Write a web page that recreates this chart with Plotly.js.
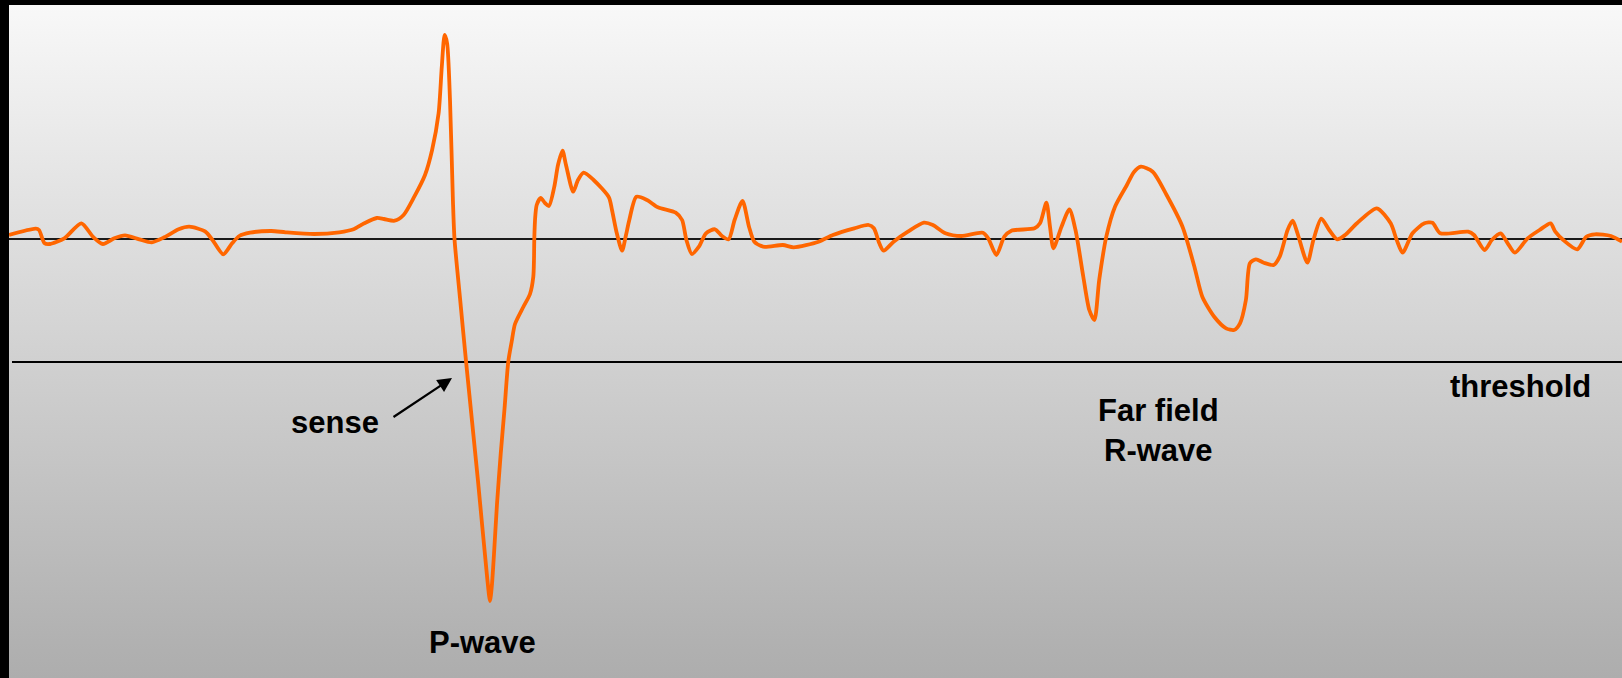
<!DOCTYPE html>
<html>
<head>
<meta charset="utf-8">
<script src="https://cdn.plot.ly/plotly-3.0.1.min.js"></script>
<style>
  html, body { margin: 0; padding: 0; background: #000; }
  #chart { width: 1622px; height: 678px; }
</style>
</head>
<body>
<div id="chart"></div>
<script>
// Electrogram trace (time in arbitrary units, amplitude in arbitrary units; baseline = 0)
const timeMs = [
  9, 35.7, 39, 44.6, 50, 64.3, 81.4, 92.9, 102.9, 114.3, 125, 139.3, 151.8, 164.3, 178.6, 189.3,
  205.4, 212.5, 223.2, 232.1, 239.3, 250, 271.4, 285.7, 314.3, 339.3, 353.6, 364.3, 376.8, 383.9,
  394.6, 403.6, 414.3, 425, 432.1, 438.6, 441.8, 444.6, 447.1, 450, 452.9, 454.5, 460,
  466, 478, 487.3, 490, 492, 494, 497, 500.7, 504.5, 508.3, 511.7, 515, 523.3, 530, 533.3, 534,
  534.3, 535.3, 536.7, 540.7, 545, 548.9, 554.3, 558, 562.5, 566, 573.2, 578, 583.6, 593.6, 608.9,
  612, 616.8, 622.1, 626, 629.3, 636.4, 647, 657.9, 675.7, 682.1, 686.4, 691.8, 698.9, 706, 715,
  722, 728.6, 734.6, 742.5, 749, 754.3, 763.2, 782.9, 793.6, 818.6, 832.9, 854.3, 868.6, 873.9,
  879.3, 883.6, 893.6, 907.9, 923.9, 932.9, 945.4, 961.4, 982.9, 988.2, 996.4, 1004.3, 1011.4,
  1034.6, 1040, 1046.4, 1050, 1053.4, 1061.5, 1069.4, 1075.5, 1083.3, 1089.3, 1094.4, 1099.2,
  1106.3, 1115, 1126.9, 1134, 1140.8, 1152.7, 1166.6, 1182.5, 1194.4, 1202.3, 1214.2, 1226.1, 1234,
  1240, 1245.9, 1249.9, 1255.9, 1263.8, 1273.7, 1279.7, 1287.6, 1292.7, 1297.5, 1307.4, 1313.4,
  1321.3, 1329.2, 1337.2, 1345.1, 1357, 1376.8, 1390.7, 1396.7, 1402.6, 1412.5, 1424.4, 1432.4,
  1440.3, 1468.1, 1474, 1484.7, 1491.8, 1500.6, 1507.7, 1514.9, 1527.6, 1539.5, 1550.6, 1555.3,
  1563.3, 1577.2, 1586.3, 1595, 1610.9, 1622
];
const amplitude = [
  4, 10.3, 9, -4.3, -5, 0.7, 15.7, 2.3, -5, 0.7, 3.7, -0.3, -3.3, 1.7, 9.7, 12.3,
  7.3, -1, -15.3, -4.3, 3, 6.3, 8, 6.7, 5, 6.7, 9.7, 15.7, 21, 20,
  18.3, 24, 42.3, 64, 89, 125.7, 172.3, 204, 195.7, 139, 39, 0, -59,
  -122, -242, -340, -362, -345, -315, -265, -215, -170, -122.4, -102.5, -85, -68, -55, -37.7, -20,
  0.4, 23, 34, 41, 36, 33, 52.3, 74, 88.3, 74, 47.3, 59, 66.3, 59, 41.7,
  29, 5.7, -11.7, 4, 19, 42.3, 39, 31.7, 26.3, 19, -1, -15, -7.7, 5.7, 9.7,
  3, -0.3, 19, 38, 12.3, -2.7, -7.7, -6, -8.3, -2.7, 4, 10.7, 14, 10.7,
  -4.3, -11.7, -2.7, 7.3, 16.3, 14, 5.7, 3, 6.3, 0.7, -16, 2.3, 8.3,
  10.7, 15.7, 36.3, 12.3, -9.3, 12.3, 29.5, 9, -37.7, -71, -81, -41,
  2.3, 32.3, 54, 67, 72.3, 67.3, 44, 12.3, -27.7, -57.7, -77.7, -89.3, -91,
  -84.3, -61, -24.3, -20.3, -23.7, -26, -17.7, 9, 18.3, 5.7, -23.7, -1,
  20.3, 9, -0.3, 4, 15.7, 30.7, 15.7, -1, -13.7, 5.7, 15.7, 16.3,
  5.7, 7.3, 4, -11, -1, 5.7, -4.3, -13.7, 0.7, 9, 15.7, 7.3,
  -1, -10.3, 2.3, 4.7, 3, -2.7
];

// Reference levels
const baselineLevel = 0;
const thresholdLevel = -123;

// Labels: text, time, amplitude
const labelTexts = ['sense', 'P-wave', 'Far field<br>R-wave', 'threshold'];
const labelTimes = [335, 482, 1158, 1520];
const labelAmps = [-183, -403, -191, -147];

// Sense arrow: tail -> head
const arrowTail = [392, -179];
const arrowHead = [452, -139];

const gradSvg = '<svg xmlns="http://www.w3.org/2000/svg" width="100" height="100" preserveAspectRatio="none">' +
  '<defs><linearGradient id="g" x1="0" y1="0" x2="0" y2="1">' +
  '<stop offset="0" stop-color="#f8f8f8"/><stop offset="1" stop-color="#adadad"/>' +
  '</linearGradient></defs><rect width="100" height="100" fill="url(#g)"/></svg>';
const gradUri = 'data:image/svg+xml;base64,' + btoa(gradSvg);

const traces = [{
  x: timeMs,
  y: amplitude,
  type: 'scatter',
  mode: 'lines',
  line: { color: '#ff6600', width: 3.8, shape: 'spline', smoothing: 0.7 },
  hoverinfo: 'skip'
}];

const font = { family: 'Liberation Sans, Arial, sans-serif', size: 31, color: '#000' };

const annotations = labelTexts.map((t, i) => ({
  x: labelTimes[i], y: labelAmps[i], xref: 'x', yref: 'y',
  text: '<b>' + t + '</b>', showarrow: false, font: font,
  xanchor: 'center', yanchor: 'middle', align: 'center'
}));
annotations.push({
  x: arrowHead[0], y: arrowHead[1], xref: 'x', yref: 'y',
  ax: arrowTail[0], ay: arrowTail[1], axref: 'x', ayref: 'y',
  text: '', showarrow: true, arrowhead: 2, arrowsize: 1.3, arrowwidth: 2.2, arrowcolor: '#000'
});

const layout = {
  width: 1622, height: 678,
  margin: { l: 9, r: 0, t: 5, b: 0, pad: 0 },
  paper_bgcolor: '#000',
  plot_bgcolor: 'rgba(0,0,0,0)',
  showlegend: false,
  xaxis: { range: [9, 1622], visible: false, fixedrange: true },
  yaxis: { range: [-439, 234], visible: false, fixedrange: true },
  images: [{
    source: gradUri, xref: 'paper', yref: 'paper', x: 0, y: 1, sizex: 1, sizey: 1,
    xanchor: 'left', yanchor: 'top', sizing: 'stretch', layer: 'below'
  }],
  shapes: [
    { type: 'line', xref: 'paper', yref: 'y', x0: 0, x1: 1, y0: baselineLevel, y1: baselineLevel,
      line: { color: '#1a1a1a', width: 2 }, layer: 'below' },
    { type: 'line', xref: 'x', yref: 'y', x0: 12, x1: 1622, y0: thresholdLevel, y1: thresholdLevel,
      line: { color: '#000', width: 2 }, layer: 'below' }
  ],
  annotations: annotations
};

Plotly.newPlot('chart', traces, layout, { displayModeBar: false, staticPlot: true });
</script>
</body>
</html>
